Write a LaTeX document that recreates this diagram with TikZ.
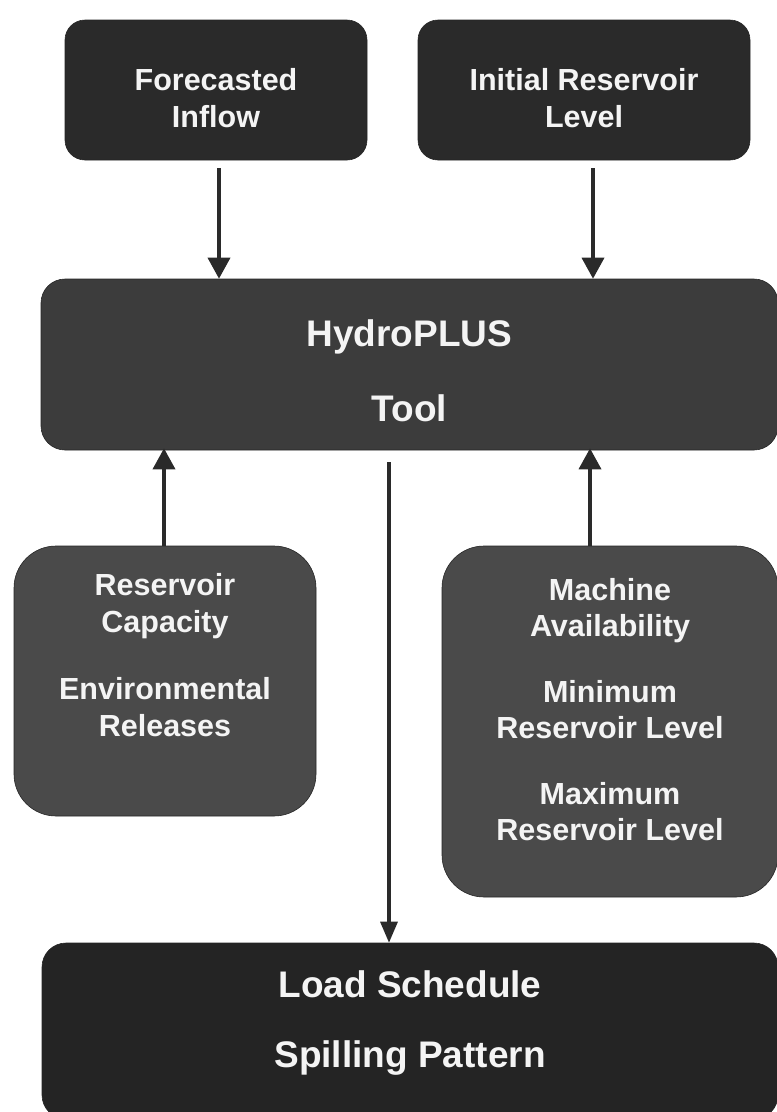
\documentclass[tikz,border=0pt]{standalone}
\usepackage{fontspec}
\setmainfont{Liberation Sans}
\usetikzlibrary{arrows.meta,calc}
\definecolor{topfill}{HTML}{2A2A2A}
\definecolor{hpfill}{HTML}{3C3C3C}
\definecolor{midfill}{HTML}{4A4A4A}
\definecolor{botfill}{HTML}{242424}
\definecolor{arrcol}{HTML}{2A2A2A}
\definecolor{txtcol}{HTML}{F4F4F4}
\tikzset{
  box/.style={draw=black!85, line width=0.6pt, rounded corners=#1, inner sep=0pt},
  box/.default=20pt,
  smalltxt/.style={text=txtcol, align=center, inner sep=0pt,
    font=\bfseries\fontsize{30.5}{36.5}\selectfont},
  bigtxt/.style={text=txtcol, align=center, inner sep=0pt,
    font=\bfseries\fontsize{37}{44}\selectfont},
  arr/.style={draw=arrcol, line width=3.6pt, -{Triangle[width=22pt,length=21pt]}},
  thinarr/.style={draw=arrcol, line width=3.2pt, -{Triangle[width=17pt,length=21pt]}}
}
\begin{document}
\begin{tikzpicture}[x=1pt,y=-1pt]
\useasboundingbox (0,0) rectangle (777,1112);
% boxes
\node[box, fill=topfill, minimum width=302pt, minimum height=140pt] (fc) at (216,90) {};
\node[box, fill=topfill, minimum width=332pt, minimum height=140pt] (ir) at (584,90) {};
\node[box=24pt, fill=hpfill, minimum width=737pt, minimum height=171pt] (hp) at (409.5,364.5) {};
\node[box=42pt, fill=midfill, minimum width=302pt, minimum height=270pt] (lm) at (165,681) {};
\node[box=42pt, fill=midfill, minimum width=336pt, minimum height=351pt] (rm) at (610,721.5) {};
\node[box=24pt, fill=botfill, minimum width=736pt, minimum height=176pt] (bt) at (410,1031) {};
% texts
\node[smalltxt] (fct) at ([yshift=-8pt]fc.center) {Forecasted\\Inflow};
\node[smalltxt] (irt) at ([yshift=-8pt]ir.center) {Initial Reservoir\\Level};
\node[bigtxt] (hpt) at ([yshift=-6pt]hp.center) {HydroPLUS\\[31pt]Tool};
\node[smalltxt] (lmt) at ([yshift=26pt]lm.center) {Reservoir\\Capacity\\[31pt]Environmental\\Releases};
\node[smalltxt] (rmt) at ([yshift=12pt]rm.center) {Machine\\Availability\\[29pt]Minimum\\Reservoir Level\\[29pt]Maximum\\Reservoir Level};
\node[bigtxt] (btt) at ([yshift=8pt]bt.center) {Load Schedule\\[26pt]Spilling Pattern};
% connectors
\draw[arr] ([xshift=3pt,yshift=-8pt]fc.south) -- ([xshift=3pt]fc.south |- hp.north);
\draw[arr] ([xshift=9pt,yshift=-8pt]ir.south) -- ([xshift=9pt]ir.south |- hp.north);
\draw[arr] ([xshift=-1pt]lm.north) -- ([xshift=-1pt,yshift=2pt]lm.north |- hp.south);
\draw[arr] ([xshift=-20pt]rm.north) -- ([xshift=-20pt,yshift=2pt]rm.north |- hp.south);
\draw[thinarr] ([xshift=-20.5pt,yshift=-12pt]hp.south) -- ([xshift=-20.5pt]hp.south |- bt.north);
\end{tikzpicture}
\end{document}
